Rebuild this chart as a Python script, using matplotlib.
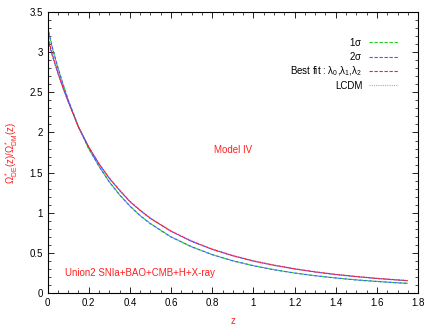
import numpy as np
import matplotlib
matplotlib.use('Agg')
import matplotlib.pyplot as plt
from matplotlib.ticker import MultipleLocator, FormatStrFormatter

plt.rcParams['font.family'] = ['Liberation Sans', 'DejaVu Sans']
plt.rcParams['mathtext.default'] = 'regular'

# values
z = [0, 0.025, 0.05, 0.075, 0.1, 0.15, 0.2, 0.25, 0.3, 0.35, 0.4, 0.45, 0.5,
     0.6, 0.7, 0.8, 0.9, 1.0, 1.1, 1.2, 1.3, 1.4, 1.5, 1.6, 1.7, 1.75]
# upper band (best fit, LCDM, 2sigma upper)
best_fit = [3.20, 2.96, 2.75, 2.56, 2.39, 2.07, 1.82, 1.61, 1.43, 1.28, 1.14, 1.03, 0.93,
            0.77, 0.645, 0.545, 0.465, 0.399, 0.346, 0.301, 0.263, 0.231, 0.205,
            0.182, 0.163, 0.154]
lcdm = [3.19, 2.95, 2.745, 2.56, 2.39, 2.073, 1.824, 1.614, 1.435, 1.285, 1.145, 1.035, 0.935,
        0.775, 0.65, 0.549, 0.469, 0.403, 0.350, 0.304, 0.266, 0.234, 0.207,
        0.184, 0.165, 0.156]
sig2_up = [3.17, 2.94, 2.74, 2.555, 2.385, 2.068, 1.818, 1.608, 1.428, 1.278, 1.138, 1.028, 0.928,
           0.768, 0.643, 0.543, 0.463, 0.397, 0.344, 0.299, 0.261, 0.229, 0.203,
           0.180, 0.161, 0.152]
# lower band (1sigma, 2sigma lower)
sig1 = [3.30, 3.035, 2.805, 2.60, 2.405, 2.07, 1.80, 1.58, 1.385, 1.225, 1.085, 0.965, 0.865,
        0.70, 0.577, 0.479, 0.402, 0.341, 0.291, 0.250, 0.216, 0.188, 0.164,
        0.145, 0.128, 0.121]
sig2_lo = [3.32, 3.045, 2.815, 2.605, 2.41, 2.072, 1.80, 1.578, 1.383, 1.222, 1.082, 0.962, 0.862,
           0.697, 0.575, 0.477, 0.400, 0.339, 0.289, 0.248, 0.214, 0.186, 0.162,
           0.143, 0.126, 0.119]

green = '#20d020'
blue = '#4060ff'
red = '#ff2020'
pink = '#f080f0'

fig = plt.figure(figsize=(4.36, 3.27), dpi=100)
ax = fig.add_axes([0.109, 0.104, 0.850, 0.859])

ax.plot(z, sig1, color=green, lw=0.8, ls=(0, (3, 1.5)), label=r'1$\sigma$')
ax.plot(z, sig2_lo, color=blue, lw=0.8, ls=(0, (3, 1.5)), label=r'2$\sigma$')
ax.plot(z, sig2_up, color=blue, lw=0.8, ls=(0, (3, 1.5)))
ax.plot(z, lcdm, color=pink, lw=0.8, ls=(0, (1, 1)), zorder=1)
ax.plot(z, best_fit, color=red, lw=0.8, ls=(0, (3, 1.5)),
        label=r'Best fit : $\lambda_0$,$\lambda_1$,$\lambda_2$')
ax.plot([], [], color=pink, lw=0.8, ls=(0, (1, 1)), label='LCDM')

ax.set_xlim(0, 1.8)
ax.set_ylim(0, 3.5)
ax.xaxis.set_major_locator(MultipleLocator(0.2))
ax.xaxis.set_minor_locator(MultipleLocator(0.05))
ax.yaxis.set_major_locator(MultipleLocator(0.5))
ax.yaxis.set_minor_locator(MultipleLocator(0.1))
ax.xaxis.set_major_formatter(FormatStrFormatter('%g'))
ax.yaxis.set_major_formatter(FormatStrFormatter('%g'))
ax.tick_params(which='both', direction='in', top=True, right=True, labelsize=7)
ax.tick_params(which='major', length=4, width=0.6)
ax.tick_params(which='minor', length=2, width=0.5)
for s in ax.spines.values():
    s.set_linewidth(0.8)

ax.set_xlabel('z', color=red, fontsize=7, labelpad=6)
ax.set_ylabel(r'$\Omega^*_{DE}(z)/\Omega^*_{DM}(z)$', color=red, fontsize=7, labelpad=7)

ax.text(0.90, 1.78, 'Model IV', color=red, fontsize=7, ha='center', va='center')
ax.text(0.085, 0.25, 'Union2 SNIa+BAO+CMB+H+X-ray', color=red, fontsize=7,
        ha='left', va='center')

leg = ax.legend(loc='upper right', bbox_to_anchor=(0.965, 0.94), frameon=False,
                fontsize=7, markerfirst=False, handlelength=3.0, handletextpad=0.7,
                labelspacing=0.25, borderpad=0.2)

fig.savefig('out.png', dpi=100)
